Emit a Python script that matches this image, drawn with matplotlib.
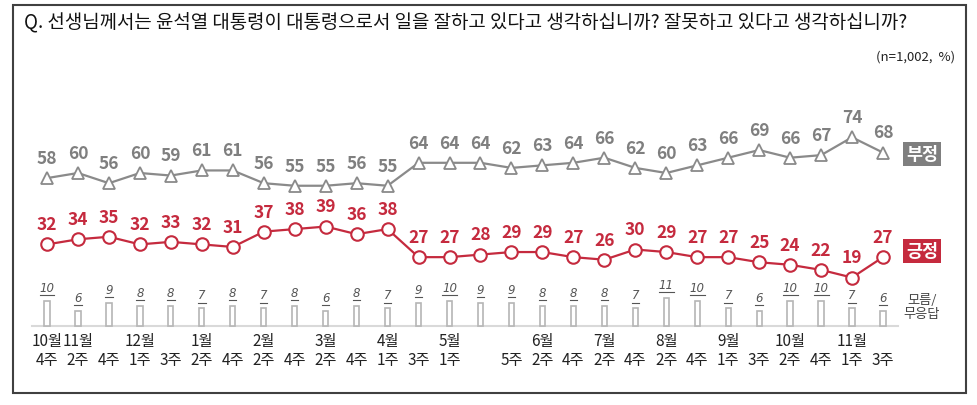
import matplotlib
matplotlib.use("Agg")
import matplotlib.pyplot as plt
from matplotlib.patches import Rectangle
from matplotlib.transforms import ScaledTranslation

plt.rcParams['font.family'] = ['Noto Sans CJK KR', 'DejaVu Sans']

months = ["10월", "11월", "", "12월", "", "1월", "", "2월", "", "3월", "", "4월", "", "5월",
          "", "", "6월", "", "7월", "", "8월", "", "9월", "", "10월", "", "11월", ""]
weeks = ["4주", "2주", "4주", "1주", "3주", "2주", "4주", "2주", "4주", "2주", "4주", "1주", "3주", "1주",
         "", "5주", "2주", "4주", "2주", "4주", "2주", "4주", "1주", "3주", "2주", "4주", "1주", "3주"]
negative = [58, 60, 56, 60, 59, 61, 61, 56, 55, 55, 56, 55, 64, 64, 64, 62, 63, 64, 66, 62,
            60, 63, 66, 69, 66, 67, 74, 68]
positive = [32, 34, 35, 32, 33, 32, 31, 37, 38, 39, 36, 38, 27, 27, 28, 29, 29, 27, 26, 30,
            29, 27, 27, 25, 24, 22, 19, 27]
dontknow = [10, 6, 9, 8, 8, 7, 8, 7, 8, 6, 8, 7, 9, 10, 9, 9, 8, 8, 8, 7, 11, 10, 7, 6, 10, 10, 7, 6]

RED = "#c52a3e"
GRAY = "#8a8a8a"
GRAYTXT = "#7f7f7f"

W, H = 978, 406
fig = plt.figure(figsize=(W / 100, H / 100), dpi=100)
ax = fig.add_axes([0, 0, 1, 1])
px_per_idx = (883 - 47) / 27
ax.set_xlim(-47 / px_per_idx, 27 + (W - 883) / px_per_idx)
sy = 2.55
ax.set_ylim(-(H - 327) / sy, 327 / sy)
ax.axis('off')

x = list(range(len(negative)))

# border
fig.patches.append(Rectangle((13 / W, 1 - 394 / H), (966 - 13) / W, (394 - 6) / H,
                             transform=fig.transFigure, fill=False, edgecolor="#404040", lw=1.5))

# title
fig.text(24 / W, 1 - 22 / H,
         "Q. 선생님께서는 윤석열 대통령이 대통령으로서 일을 잘하고 있다고 생각하십니까? 잘못하고 있다고 생각하십니까?",
         fontsize=13.6, color="#111111", va='center', ha='left')
fig.text(955 / W, 1 - 57 / H, "(n=1,002,  %)", fontsize=9.5, color="#222222", va='center', ha='right')

# baseline
ax.plot([-0.5, 27.5], [0, 0], color="#d9d9d9", lw=1.5, zorder=1)

# bars
ax.bar(x, dontknow, width=0.17, facecolor="white", edgecolor="#b5b5b5", lw=1.2, zorder=2)
ul_off = ax.transData + ScaledTranslation(0, 4 / 72, fig.dpi_scale_trans)
for xi, v in zip(x, dontknow):
    ax.annotate(str(v), (xi, v), xytext=(0, 5), textcoords='offset points',
                ha='center', va='bottom', fontsize=8.5, color="#555555", style='italic',
                family=['DejaVu Sans'])
    half = 0.12 if v < 10 else 0.24
    ax.plot([xi - half, xi + half], [v, v], transform=ul_off, color="#555555", lw=0.8)

# lines
ax.plot(x, negative, color=GRAY, lw=1.6, marker='^', markersize=9, markerfacecolor='white',
        markeredgecolor=GRAY, markeredgewidth=1.3, zorder=3)
ax.plot(x, positive, color=RED, lw=1.6, marker='o', markersize=9, markerfacecolor='white',
        markeredgecolor=RED, markeredgewidth=1.5, zorder=3)

for xi, v in zip(x, negative):
    ax.annotate(str(v), (xi, v), xytext=(0, 8), textcoords='offset points', ha='center', va='bottom',
                fontsize=12.5, fontweight='bold', color=GRAYTXT)
for xi, v in zip(x, positive):
    ax.annotate(str(v), (xi, v), xytext=(0, 8), textcoords='offset points', ha='center', va='bottom',
                fontsize=12.5, fontweight='bold', color=RED)

# series tags
ax.text(922 / W, 1 - 155 / H, "부정", transform=fig.transFigure, ha='center', va='center',
        fontsize=12.5, fontweight='bold', color='white',
        bbox=dict(boxstyle='square,pad=0.2', facecolor="#7f7f7f", edgecolor='none'))
ax.text(922 / W, 1 - 252 / H, "긍정", transform=fig.transFigure, ha='center', va='center',
        fontsize=12.5, fontweight='bold', color='white',
        bbox=dict(boxstyle='square,pad=0.2', facecolor=RED, edgecolor='none'))
ax.text(922 / W, 1 - 308 / H, "모름/\n무응답", transform=fig.transFigure, ha='center', va='center',
        fontsize=9.5, color="#444444", linespacing=1.1)

# x labels
for xi, m, w in zip(x, months, weeks):
    if m:
        ax.annotate(m, (xi, 0), xytext=(0, -10.5), textcoords='offset points', ha='center', va='center',
                    fontsize=11, color="#222222")
    if w:
        ax.annotate(w, (xi, 0), xytext=(0, -24), textcoords='offset points', ha='center', va='center',
                    fontsize=11, color="#222222")

fig.savefig("out.png", dpi=100)
